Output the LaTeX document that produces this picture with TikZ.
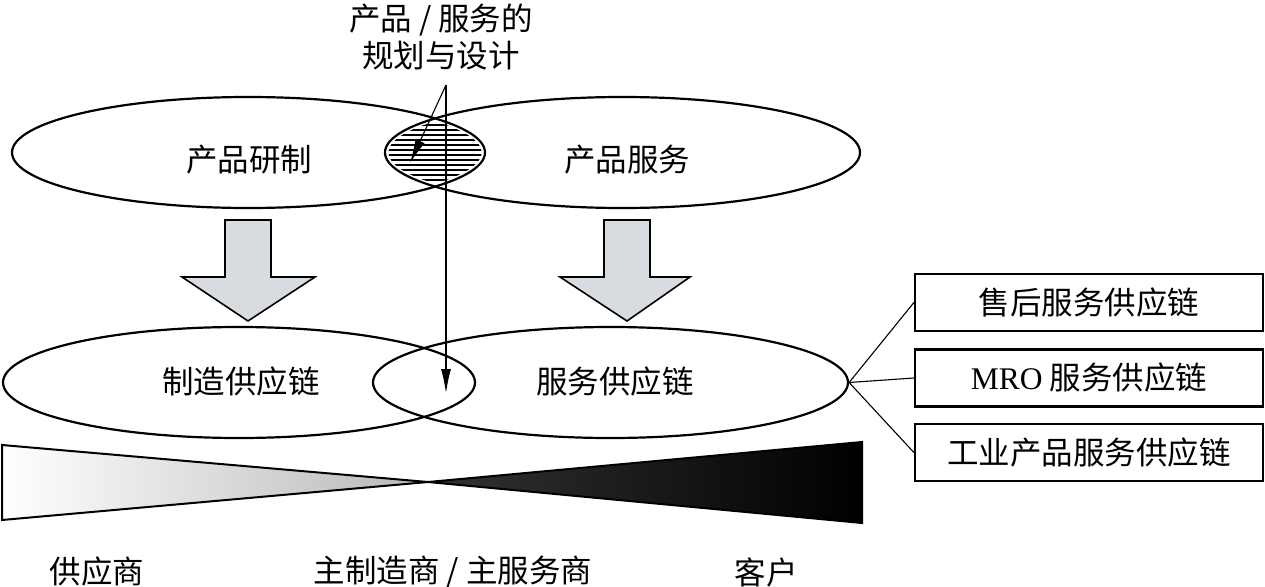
\documentclass[tikz,border=0pt]{standalone}
\usepackage{fontspec}
\setmainfont{Noto Sans CJK SC}
\newfontfamily\latinserif{Liberation Serif}
\usetikzlibrary{arrows.meta,shapes.geometric}
\definecolor{arrowfill}{RGB}{216,220,224}
\begin{document}
\begin{tikzpicture}[x=1pt,y=-1pt,
  oval/.style={draw,line width=2.2pt,ellipse,inner sep=0pt},
  lbl/.style={font=\fontsize{31.5}{37}\selectfont, inner sep=0pt},
  box/.style={draw,line width=2.2pt,minimum width=348pt,minimum height=57pt,inner sep=0pt,font=\fontsize{31.5}{36}\selectfont},
  blockarrow/.style={draw,line width=1.6pt,fill=arrowfill,line join=miter},
  ptr/.style={line width=1.1pt,-{Latex[length=24pt,width=10pt]}},
  link/.style={line width=1.1pt},
  wedge/.style={draw,line width=2pt,line join=miter}]
\useasboundingbox (0,0) rectangle (1265,586);

% ellipses
\node[oval,minimum width=473pt,minimum height=111pt] (tl) at (248.5,152.5) {};
\node[oval,minimum width=475pt,minimum height=111pt] (tr) at (622.5,152.5) {};
\node[oval,minimum width=472pt,minimum height=111pt] (ml) at (239,382.5) {};
\node[oval,minimum width=475pt,minimum height=111pt] (mr) at (610.5,382.5) {};

% hatched lens
\begin{scope}
  \clip (tl.center) ellipse [x radius=233pt, y radius=52pt];
  \clip (tr.center) ellipse [x radius=234pt, y radius=52pt];
  \foreach \yy in {125,130,...,185} \draw[line width=1.5pt] (380,\yy) -- (490,\yy);
\end{scope}

% ellipse texts
\node[lbl] (t1) at (249,160) {产品研制};
\node[lbl] (t2) at (627,160) {产品服务};
\node[lbl] (t3) at (241,382) {制造供应链};
\node[lbl] (t4) at (615,382) {服务供应链};

% top label
\node[lbl,align=center] (plan) at (441,37.5) {产品 / 服务的\\规划与设计};

% block arrows
\draw[blockarrow] (225,220) -- (271,220) -- (271,277) -- (315,277) -- (248,321) -- (182,277) -- (225,277) -- cycle;
\draw[blockarrow] (604,220) -- (650,220) -- (650,277) -- (690,277) -- (627,321) -- (560,277) -- (604,277) -- cycle;

% pointers
\coordinate (src) at (446,85);
\coordinate (dn) at (446,393);
\coordinate (lens) at (410,163);
\draw[ptr] (src) -- (dn);
\draw[ptr] (src) -- (lens);

% boxes
\node[box] (b1) at (1089,302.5) {售后服务供应链};
\node[box] (b2) at (1089,378) {{\latinserif MRO} 服务供应链};
\node[box] (b3) at (1089,452.5) {工业产品服务供应链};
\draw[link] (mr.east) -- (b1.west);
\draw[link] (mr.east) -- (b2.west);
\draw[link] (mr.east) -- (b3.west);

% bow tie
\coordinate (mid) at (428,482);
\shade[left color=white,right color=black!28] (2,445) -- (mid) -- (2,520) -- cycle;
\shade[left color=black!80,right color=black] (mid) -- (862,442) -- (862,523) -- cycle;
\draw[wedge] (2,445) -- (mid) -- (2,520) -- cycle;
\draw[wedge] (mid) -- (862,442) -- (862,523) -- cycle;

% bottom labels
\node[lbl] (sup) at (97,572) {供应商};
\node[lbl] (core) at (453,572) {主制造商 / 主服务商};
\node[lbl] (cust) at (766,572) {客户};
\end{tikzpicture}
\end{document}
